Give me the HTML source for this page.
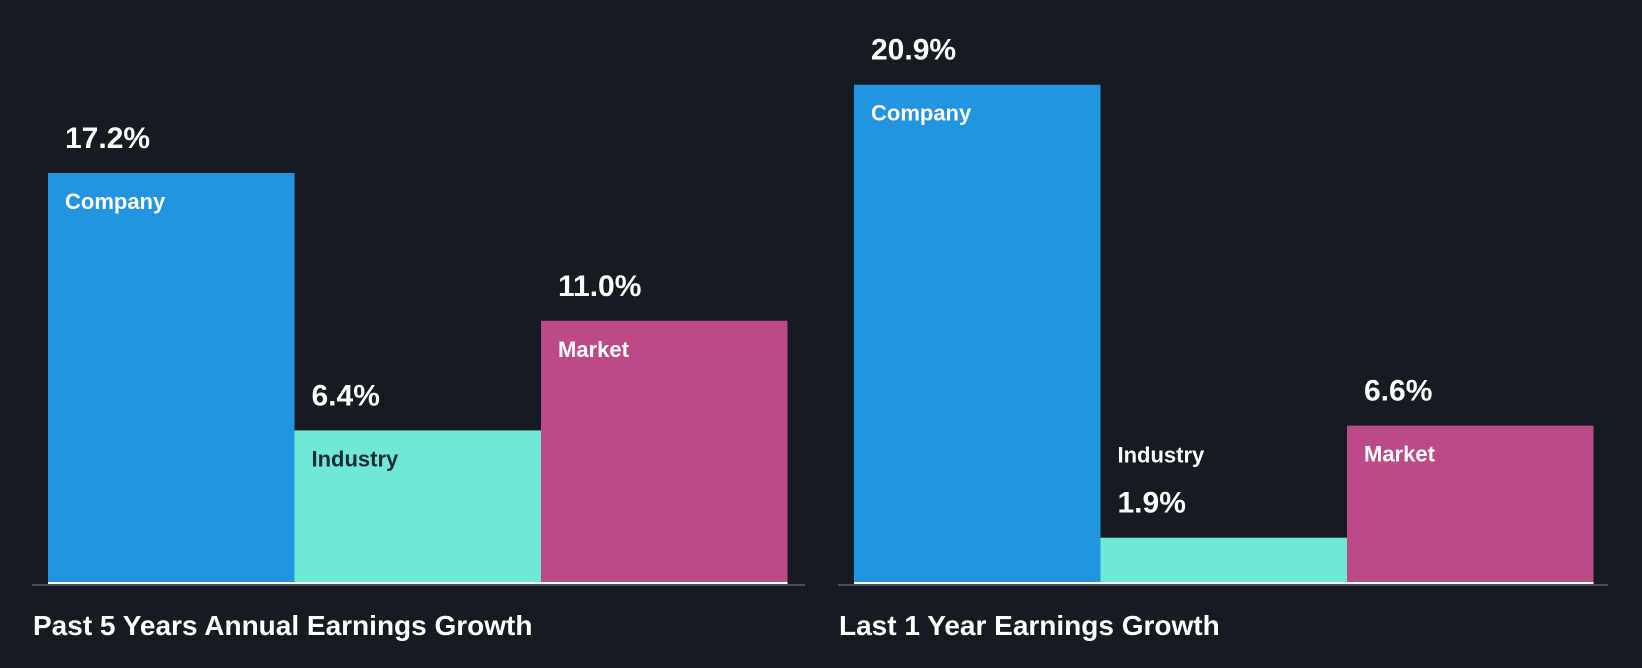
<!DOCTYPE html>
<html><head><meta charset="utf-8"><style>
body{margin:0;background:#161b22;width:1642px;height:668px;overflow:hidden;font-family:"Liberation Sans",sans-serif}
svg{display:block}
text{font-family:"Liberation Sans",sans-serif;font-weight:bold}
</style></head><body>
<svg id="c" width="1642" height="668"></svg>
<script>
const categories=["Company","Industry","Market"];
const past5Values=[17.2,6.4,11.0];
const last1Values=[20.9,1.9,6.6];
const valueLabels5=["17.2%","6.4%","11.0%"];
const valueLabels1=["20.9%","1.9%","6.6%"];
const titles=["Past 5 Years Annual Earnings Growth","Last 1 Year Earnings Growth"];
const colors=["#2394df","#70e8d6","#bb4a86"];
const labelColors=["#ffffff","#1e2a33","#ffffff"];
const svg=document.getElementById('c');
const NS="http://www.w3.org/2000/svg";
const base=583, pxPer=23.84, barW=246.5;
function y(v){return base-v*pxPer;}
function mk(t,a){const e=document.createElementNS(NS,t);for(const k in a)e.setAttribute(k,a[k]);svg.appendChild(e);return e;}
function panel(x0,axX1,axX2,vals,labels,title,idx){
  const ax=mk('rect',{x:axX1,y:base+1,width:axX2-axX1,height:2,fill:'#4a4f56'});
  
  
  vals.forEach((v,i)=>{
    const x=x0+i*barW, top=y(v);
    const r=mk('rect',{x:x,y:top,width:barW,height:base-top,fill:colors[i]});
    
    
    const bl=mk('rect',{x:x,y:base-1,width:barW,height:2,fill:'#ffffff'});
    
    
    const small=(base-top)<80;
    const catY=small? top-75 : top+36;
    const valY=small? top-25 : top-25;
    const c=mk('text',{x:x+17,y:catY,'font-size':22,fill:small?'#ffffff':labelColors[i]});
    c.textContent=categories[i];
    
    
    const t=mk('text',{x:x+17,y:valY,'font-size':30,fill:'#ffffff'});
    t.textContent=labels[i];
    
    
  });
  const tt=mk('text',{x:x0-15,y:635,'font-size':28,fill:'#ffffff'});
  tt.textContent=title;
  
  
}
panel(48,32,805,past5Values,valueLabels5,titles[0],1);
panel(854,838,1608,last1Values,valueLabels1,titles[1],2);
</script>
</body></html>
